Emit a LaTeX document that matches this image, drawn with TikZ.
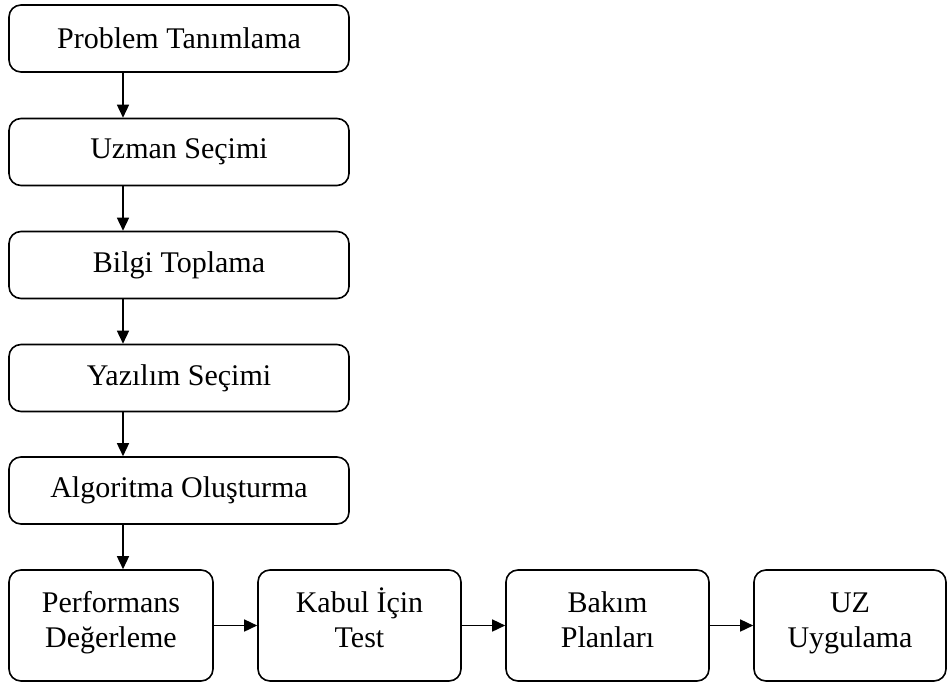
\documentclass[tikz,border=0pt]{standalone}
\usepackage{fontspec}
\setmainfont{Liberation Serif}
\usetikzlibrary{arrows.meta}
\begin{document}
\begin{tikzpicture}[x=1pt,y=-1pt,
  stage/.style={draw, line width=1.6pt, rounded corners=12pt, inner sep=0pt,
    align=center, font=\fontsize{30}{35}\selectfont},
  wide/.style={stage, minimum width=340pt, minimum height=67pt},
  tall/.style={stage, minimum width=204pt, minimum height=111pt},
  caption/.style={align=center, inner sep=0pt, font=\fontsize{30}{35}\selectfont},
  flow/.style={line width=1.5pt, -{Triangle[length=13pt,width=12pt]}}]
  \useasboundingbox (0,0) rectangle (948,683);

  % vertical chain of steps
  \node[wide] (s1) at (179,38.5) {Problem Tanımlama};
  \node[wide] (s2) at (179,152) {Uzman Seçimi};
  \node[wide] (s3) at (179,265) {Bilgi Toplama};
  \node[wide] (s4) at (179,378) {Yazılım Seçimi};
  \node[wide] (s5) at (179,490.5) {Algoritma Oluşturma};

  % bottom row: boxes, with their two-line captions set in the upper part
  \node[tall] (r1) at (111,625.5) {};
  \node[tall, minimum width=203pt] (r2) at (359.5,625.5) {};
  \node[tall, minimum width=203pt] (r3) at (607.5,625.5) {};
  \node[tall, minimum width=192pt] (r4) at (850,625.5) {};
  \node[caption] (t1) at ([yshift=3pt]r1.center) {\strut Performans\\\strut Değerleme};
  \node[caption] (t2) at ([yshift=3pt]r2.center) {\strut Kabul İçin\\\strut Test};
  \node[caption] (t3) at ([yshift=3pt]r3.center) {\strut Bakım\\\strut Planları};
  \node[caption] (t4) at ([yshift=3pt]r4.center) {\strut UZ\\\strut Uygulama};

  \coordinate (axis) at (123,0);

  \draw[flow] (s1.south -| axis) -- (s2.north -| axis);
  \draw[flow] (s2.south -| axis) -- (s3.north -| axis);
  \draw[flow] (s3.south -| axis) -- (s4.north -| axis);
  \draw[flow] (s4.south -| axis) -- (s5.north -| axis);
  \draw[flow] (s5.south -| axis) -- (r1.north -| axis);

  \draw[flow] (r1.east) -- (r2.west);
  \draw[flow] (r2.east) -- (r3.west);
  \draw[flow] (r3.east) -- (r4.west);
\end{tikzpicture}
\end{document}
